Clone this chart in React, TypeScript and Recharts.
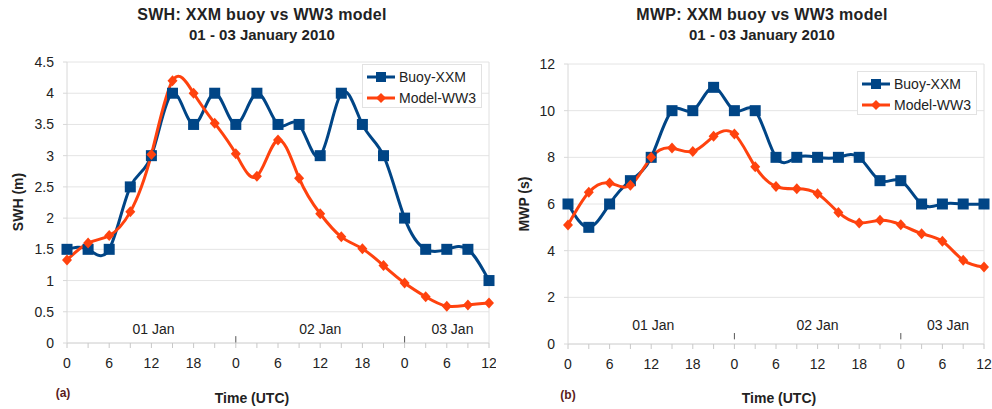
import {
  CartesianGrid,
  Line,
  LineChart,
  ReferenceDot,
  ReferenceLine,
  XAxis,
  YAxis,
} from "recharts";

// hours since 01 Jan 2010 00 UTC, every 3 h
const hours = [0, 3, 6, 9, 12, 15, 18, 21, 24, 27, 30, 33, 36, 39, 42, 45, 48, 51, 54, 57, 60];

const swhBuoy = [1.5, 1.5, 1.5, 2.5, 3, 4, 3.5, 4, 3.5, 4, 3.5, 3.5, 3, 4, 3.5, 3, 2, 1.5, 1.5, 1.5, 1];
const swhModel = [1.33, 1.6, 1.72, 2.1, 3.02, 4.2, 4.0, 3.52, 3.03, 2.67, 3.25, 2.64, 2.07, 1.7, 1.51, 1.24, 0.96, 0.74, 0.59, 0.61, 0.64];

const mwpBuoy = [6, 5, 6, 7, 8, 10, 10, 11, 10, 10, 8, 8, 8, 8, 8, 7, 7, 6, 6, 6, 6];
const mwpModel = [5.1, 6.5, 6.9, 6.8, 8.0, 8.4, 8.25, 8.9, 9.0, 7.6, 6.75, 6.65, 6.44, 5.64, 5.19, 5.3, 5.11, 4.73, 4.4, 3.59, 3.3];

const swhTicks = [0, 0.5, 1, 1.5, 2, 2.5, 3, 3.5, 4, 4.5];
const mwpTicks = [0, 2, 4, 6, 8, 10, 12];

const dayLabels = ["01 Jan", "02 Jan", "03 Jan"];
const dayCentres = [12.3, 36, 54.8];
const dayBreaks = [24, 48];

const BLUE = "#004586";
const RED = "#ff420e";
const FONT = "'Liberation Sans', Arial, sans-serif";

const swhData = hours.map((t, i) => ({ t, buoy: swhBuoy[i], model: swhModel[i] }));
const mwpData = hours.map((t, i) => ({ t, buoy: mwpBuoy[i], model: mwpModel[i] }));

const Square = (p: any) => (
  <rect key={`s${p.index}`} x={p.cx - 5.5} y={p.cy - 5.5} width={11} height={11} fill={BLUE} />
);

const Diamond = (p: any) => (
  <polygon
    key={`d${p.index}`}
    points={`${p.cx},${p.cy - 5.5} ${p.cx + 5},${p.cy} ${p.cx},${p.cy + 5.5} ${p.cx - 5},${p.cy}`}
    fill={RED}
  />
);

const hourLabel = (v: number) => (v % 6 === 0 ? String(v % 24) : "");

const LegendBox = ({ left, top }: { left: number; top: number }) => (
  <div
    style={{
      position: "absolute",
      left,
      top,
      width: 118,
      height: 42,
      border: "1px solid #e2e2e2",
      background: "#fff",
      fontFamily: FONT,
      fontSize: 14,
      color: "#222",
    }}
  >
    {[
      { name: "Buoy-XXM", color: BLUE, dot: "sq" },
      { name: "Model-WW3", color: RED, dot: "di" },
    ].map((e, i) => (
      <div key={e.name} style={{ position: "absolute", left: 3, top: 4 + i * 21, height: 16, display: "flex", alignItems: "center" }}>
        <svg width={30} height={14}>
          <line x1={1} y1={7} x2={29} y2={7} stroke={e.color} strokeWidth={3} />
          {e.dot === "sq" ? (
            <rect x={10} y={2} width={10} height={10} fill={e.color} />
          ) : (
            <polygon points="15,2 20,7 15,12 10,7" fill={e.color} />
          )}
        </svg>
        <span style={{ marginLeft: 3 }}>{e.name}</span>
      </div>
    ))}
  </div>
);

type PanelProps = {
  data: any[];
  ticks: number[];
  max: number;
  yLeft: number;
  top: number;
  bottom: number;
  right: number;
  labelY: number;
  breakFrom: number;
  breakTo: number;
};

const Panel = ({ data, ticks, max, yLeft, top, bottom, right, labelY, breakFrom, breakTo }: PanelProps) => (
  <LineChart
    width={496}
    height={409}
    data={data}
    margin={{ top, right, bottom: bottom - 30, left: 0 }}
    style={{ fontFamily: FONT }}
  >
    <CartesianGrid vertical={false} stroke="#e4e4e4" />
    <XAxis
      dataKey="t"
      type="number"
      domain={[0, 60]}
      ticks={hours}
      interval={0}
      tickFormatter={hourLabel}
      height={30}
      axisLine={{ stroke: "#d8d8d8" }}
      tickLine={{ stroke: "#c8c8c8" }}
      tickSize={5}
      tickMargin={10}
      tick={{ fill: "#222", fontSize: 14 }}
    />
    <YAxis
      type="number"
      domain={[0, max]}
      ticks={ticks}
      interval={0}
      width={yLeft}
      axisLine={{ stroke: "#d8d8d8" }}
      tickLine={{ stroke: "#d8d8d8" }}
      tickSize={4}
      tickMargin={9}
      tick={{ fill: "#222", fontSize: 14 }}
    />
    <ReferenceLine x={60} stroke="#e0e0e0" />
    {dayBreaks.map((d) => (
      <ReferenceLine
        key={d}
        segment={[
          { x: d, y: breakFrom },
          { x: d, y: breakTo },
        ]}
        stroke="#555"
        strokeWidth={1}
      />
    ))}
    {dayLabels.map((lab, i) => (
      <ReferenceDot
        key={lab}
        x={dayCentres[i]}
        y={labelY}
        r={0}
        fill="none"
        stroke="none"
        label={{ value: lab, position: "center", fill: "#222", fontSize: 14 }}
      />
    ))}
    <Line
      dataKey="buoy"
      type="natural"
      stroke={BLUE}
      strokeWidth={3}
      dot={Square}
      activeDot={false}
      isAnimationActive={false}
    />
    <Line
      dataKey="model"
      type="natural"
      stroke={RED}
      strokeWidth={3}
      dot={Diamond}
      activeDot={false}
      isAnimationActive={false}
    />
  </LineChart>
);

const titleStyle = (cx: number): React.CSSProperties => ({
  position: "absolute",
  left: cx - 200,
  width: 400,
  top: 5,
  textAlign: "center",
  fontFamily: FONT,
  fontWeight: "bold",
  lineHeight: "20px",
  color: "#222",
});

const axisTitle: React.CSSProperties = {
  position: "absolute",
  fontFamily: FONT,
  fontWeight: "bold",
  fontSize: 14,
  color: "#222",
  whiteSpace: "nowrap",
};

export default function App() {
  return (
    <div style={{ position: "absolute", left: 0, top: 0, width: 992, height: 409, background: "#fff" }}>
      <div style={titleStyle(262)}>
        <div style={{ fontSize: 16, letterSpacing: 0.3 }}>SWH: XXM buoy vs WW3 model</div>
        <div style={{ fontSize: 15 }}>01 - 03 January 2010</div>
      </div>
      <div style={titleStyle(762)}>
        <div style={{ fontSize: 16, letterSpacing: 0.3 }}>MWP: XXM buoy vs WW3 model</div>
        <div style={{ fontSize: 15 }}>01 - 03 January 2010</div>
      </div>

      <div style={{ position: "absolute", left: 0, top: 0 }}>
        <Panel data={swhData} ticks={swhTicks} max={4.5} yLeft={67} top={62} bottom={66} right={7} labelY={0.22} breakFrom={0} breakTo={0.11} />
      </div>
      <div style={{ position: "absolute", left: 496, top: 0 }}>
        <Panel data={mwpData} ticks={mwpTicks} max={12} yLeft={72} top={64} bottom={65} right={8} labelY={0.8} breakFrom={0.2} breakTo={0.47} />
      </div>

      <LegendBox left={362} top={64} />
      <LegendBox left={857} top={71} />

      <div style={{ ...axisTitle, left: 18, top: 202, transform: "translate(-50%, -50%) rotate(-90deg)" }}>SWH (m)</div>
      <div style={{ ...axisTitle, left: 524, top: 204, transform: "translate(-50%, -50%) rotate(-90deg)" }}>MWP (s)</div>
      <div style={{ ...axisTitle, left: 252, top: 398, transform: "translate(-50%, -50%)" }}>Time (UTC)</div>
      <div style={{ ...axisTitle, left: 779, top: 398, transform: "translate(-50%, -50%)" }}>Time (UTC)</div>
      <div style={{ ...axisTitle, left: 63, top: 393, fontSize: 12, color: "#5a1c1c", transform: "translate(-50%, -50%)" }}>(a)</div>
      <div style={{ ...axisTitle, left: 568, top: 395, fontSize: 12, color: "#5a1c1c", transform: "translate(-50%, -50%)" }}>(b)</div>
    </div>
  );
}
